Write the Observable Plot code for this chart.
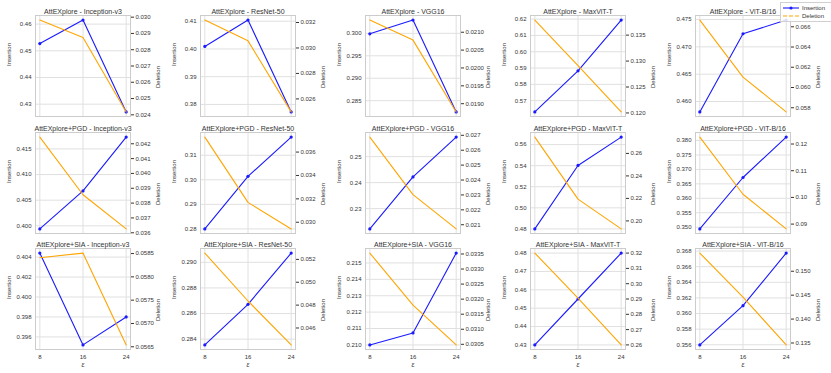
<!DOCTYPE html>
<html>
<head>
<meta charset="utf-8">
<script src="https://cdn.jsdelivr.net/npm/d3@7"></script>
<script src="https://cdn.jsdelivr.net/npm/@observablehq/plot@0.6"></script>
<style>
  body { margin: 0; background: #fff; }
  #root { position: relative; width: 831px; height: 373px; overflow: hidden; font-family: "Liberation Sans", Arial, sans-serif; }
  #root svg { position: absolute; }
  .legend { position: absolute; left: 780px; top: 2px; width: 49px; border: 1px solid #d0d0d0; background: rgba(255,255,255,0.85); font-size: 6px; color: #333; padding: 1px 0 1px 2px; }
  .legend div { display: flex; align-items: center; height: 8px; }
  .legend svg { position: static !important; margin-right: 3px; }
</style>
</head>
<body>
<div id="root"></div>
<script>
// ---- data ----
const methods = ["AttEXplore", "AttEXplore+PGD", "AttEXplore+SIA"];
const models = ["Inception-v3", "ResNet-50", "VGG16", "MaxViT-T", "ViT-B/16"];
const eps = [8, 16, 24];

// Insertion / Deletion values (per model, at eps 8, 16, 24)
const insAtt = [[0.4527, 0.4615, 0.4271], [0.4009, 0.4104, 0.3773], [0.2999, 0.30295, 0.2825], [0.5631, 0.5883, 0.6194], [0.4581, 0.4724, 0.4749]];
const delAtt = [[0.02982, 0.02875, 0.02418], [0.03219, 0.03056, 0.02498], [0.02134, 0.02078, 0.01877], [0.1379, 0.1291, 0.1202], [0.06666, 0.06103, 0.05759]];
const insPGD = [[0.3994, 0.4068, 0.4173], [0.2800, 0.3014, 0.3174], [0.2222, 0.2422, 0.2575], [0.4800, 0.5402, 0.5671], [0.3494, 0.3672, 0.3812]];
const delPGD = [[0.04245, 0.03856, 0.03626], [0.03728, 0.0317, 0.02943], [0.02688, 0.02302, 0.02072], [0.2745, 0.2194, 0.1929], [0.1226, 0.1012, 0.0882]];
const insSIA = [[0.4044, 0.3952, 0.3980], [0.28355, 0.28672, 0.29072], [0.2100, 0.21073, 0.2156], [0.4300, 0.4550, 0.4800], [0.35598, 0.3610, 0.36774]];
const delSIA = [[0.05841, 0.05851, 0.05654], [0.05255, 0.04836, 0.04452], [0.03353, 0.0318, 0.03048], [0.3200, 0.2905, 0.2600], [0.1538, 0.1446, 0.1346]];

// Tick labels
const insTicksAtt = [[0.43, 0.44, 0.45, 0.46], [0.38, 0.39, 0.40, 0.41], [0.285, 0.290, 0.295, 0.300], [0.57, 0.58, 0.59, 0.60, 0.61, 0.62], [0.460, 0.465, 0.470, 0.475]];
const delTicksAtt = [[0.024, 0.025, 0.026, 0.027, 0.028, 0.029, 0.030], [0.026, 0.028, 0.030, 0.032], [0.0190, 0.0195, 0.0200, 0.0205, 0.0210], [0.120, 0.125, 0.130, 0.135], [0.058, 0.060, 0.062, 0.064, 0.066]];
const insTicksPGD = [[0.400, 0.405, 0.410, 0.415], [0.28, 0.29, 0.30, 0.31], [0.23, 0.24, 0.25], [0.48, 0.50, 0.52, 0.54, 0.56], [0.350, 0.355, 0.360, 0.365, 0.370, 0.375, 0.380]];
const delTicksPGD = [[0.036, 0.037, 0.038, 0.039, 0.040, 0.041, 0.042], [0.030, 0.032, 0.034, 0.036], [0.021, 0.022, 0.023, 0.024, 0.025, 0.026, 0.027], [0.20, 0.22, 0.24, 0.26], [0.09, 0.10, 0.11, 0.12]];
const insTicksSIA = [[0.396, 0.398, 0.400, 0.402, 0.404], [0.284, 0.286, 0.288, 0.290], [0.210, 0.211, 0.212, 0.213, 0.214, 0.215], [0.43, 0.44, 0.45, 0.46, 0.47, 0.48], [0.356, 0.358, 0.360, 0.362, 0.364, 0.366, 0.368]];
const delTicksSIA = [[0.0565, 0.0570, 0.0575, 0.0580, 0.0585], [0.046, 0.048, 0.050, 0.052], [0.0305, 0.0310, 0.0315, 0.0320, 0.0325, 0.0330, 0.0335], [0.26, 0.27, 0.28, 0.29, 0.30, 0.31, 0.32], [0.135, 0.140, 0.145, 0.150]];

const insAll = [insAtt, insPGD, insSIA];
const delAll = [delAtt, delPGD, delSIA];
const insTicksAll = [insTicksAtt, insTicksPGD, insTicksSIA];
const delTicksAll = [delTicksAtt, delTicksPGD, delTicksSIA];

// ---- layout ----
const frameL = [35, 200, 365, 530, 695];
const frameT = [15, 132, 248];
const FW = 95, FH = 101;
const ML = 40, MR = 40, MT = 16, MB = 26;
const BLUE = "#1a1aff", ORANGE = "#ffa500";
const GRID = "#e0e0e0", FRAME = "#cccccc", TXT = "#333333";
const font = '"Liberation Sans", Arial, sans-serif';

function pad(v) { const lo = d3.min(v), hi = d3.max(v), s = (hi - lo) * 0.05; return [lo - s, hi + s]; }
function fmtFor(ticks) {
  const n = d3.max(ticks, t => (String(t).split(".")[1] || "").length);
  return d3.format("." + n + "f");
}

const root = document.getElementById("root");

methods.forEach((method, r) => {
  models.forEach((model, c) => {
    const ins = insAll[r][c], del = delAll[r][c];
    const data = eps.map((e, i) => ({eps: e, ins: ins[i], del: del[i]}));
    const iT = insTicksAll[r][c], dT = delTicksAll[r][c];
    const common = {
      width: FW + ML + MR, height: FH + MT + MB,
      marginLeft: ML, marginRight: MR, marginTop: MT, marginBottom: MB,
      style: {background: "transparent", fontFamily: font, fontSize: "6px", color: TXT, overflow: "visible"}
    };
    const bottom = r === 2;
    const p1 = Plot.plot({
      ...common,
      x: {domain: [7.2, 24.8], axis: null},
      y: {domain: pad(ins), axis: null},
      marks: [
        Plot.gridX(eps, {stroke: GRID, strokeOpacity: 1, strokeWidth: 1}),
        Plot.gridY(iT, {stroke: GRID, strokeOpacity: 1, strokeWidth: 1}),
        Plot.frame({stroke: FRAME, strokeWidth: 1}),
        Plot.axisY(iT, {anchor: "left", tickSize: 0, tickPadding: 4, tickFormat: fmtFor(iT), label: null, fill: TXT}),
        Plot.text(["Insertion"], {frameAnchor: "left", rotate: -90, dx: -26, fontSize: 6, fill: TXT}),
        ...(bottom ? [
          Plot.axisX(eps, {anchor: "bottom", tickSize: 0, tickPadding: 5, label: null, fill: TXT}),
          Plot.text(["ε"], {frameAnchor: "bottom", dy: 17, fontSize: 7, fontStyle: "italic", fill: TXT})
        ] : []),
        Plot.line(data, {x: "eps", y: "ins", stroke: BLUE, strokeWidth: 1.1}),
        Plot.dot(data, {x: "eps", y: "ins", fill: BLUE, r: 1.6}),
        Plot.text([method + " - " + model], {frameAnchor: "top", lineAnchor: "bottom", dy: -2, fontSize: 7, fill: TXT})
      ]
    });
    const p2 = Plot.plot({
      ...common,
      x: {domain: [7.2, 24.8], axis: null},
      y: {domain: pad(del), axis: null},
      marks: [
        Plot.axisY(dT, {anchor: "right", tickSize: 3, tickPadding: 2, tickFormat: fmtFor(dT), label: null, fill: TXT, stroke: TXT}),
        Plot.text(["Deletion"], {frameAnchor: "right", rotate: -90, dx: 28, fontSize: 6, fill: TXT}),
        Plot.line(data, {x: "eps", y: "del", stroke: ORANGE, strokeWidth: 1.1})
      ]
    });
    for (const p of [p1, p2]) {
      p.style.left = (frameL[c] - ML) + "px";
      p.style.top = (frameT[r] - MT) + "px";
      root.appendChild(p);
    }
  });
});

// legend
const legend = document.createElement("div");
legend.className = "legend";
legend.innerHTML =
  '<div><svg width="16" height="6"><line x1="0" y1="3" x2="16" y2="3" stroke="' + BLUE + '" stroke-width="1.1"/><circle cx="8" cy="3" r="1.6" fill="' + BLUE + '"/></svg>Insertion</div>' +
  '<div><svg width="16" height="6"><line x1="0" y1="3" x2="16" y2="3" stroke="' + ORANGE + '" stroke-width="1.1" stroke-dasharray="4,2"/></svg>Deletion</div>';
root.appendChild(legend);
</script>
</body>
</html>
